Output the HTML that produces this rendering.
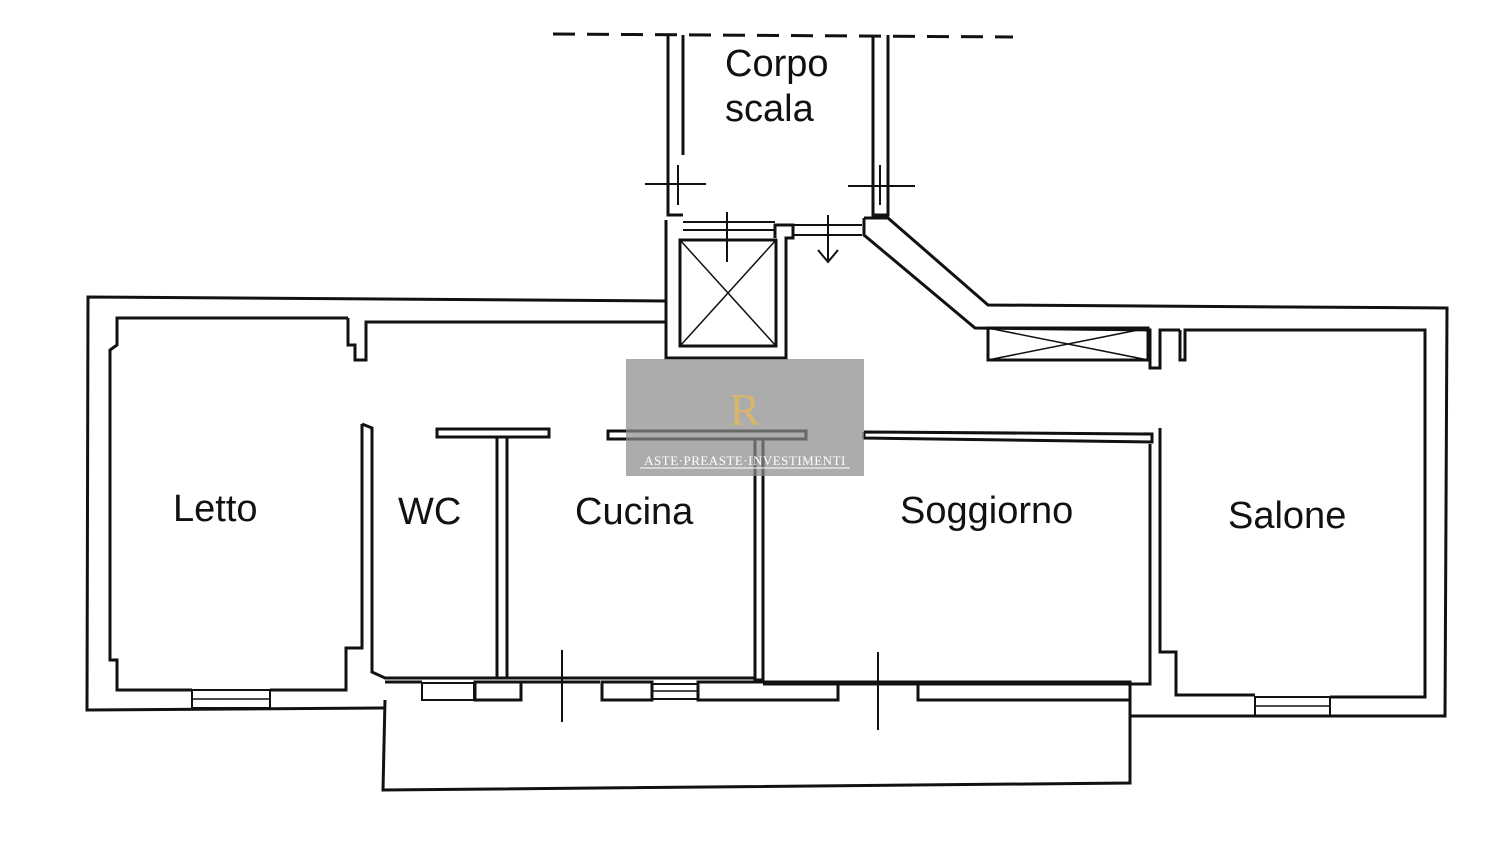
<!DOCTYPE html>
<html><head><meta charset="utf-8"><style>
html,body{margin:0;padding:0;background:#fff;}
svg{display:block}
text{font-family:"Liberation Sans",sans-serif;fill:#111}
</style></head><body>
<svg width="1500" height="841" viewBox="0 0 1500 841" xmlns="http://www.w3.org/2000/svg">
<g fill="none" stroke="#111" stroke-width="3" stroke-linejoin="miter">
<line x1="553" y1="34" x2="1013" y2="37" stroke-dasharray="22,12"/>
<polyline points="668,35 668,215 683,215"/>
<polyline points="683,35 683,155"/>
<polyline points="888,35 888,215 873,215 873,35"/>
<line x1="645" y1="184" x2="706" y2="184" stroke-width="2"/>
<line x1="678" y1="165" x2="678" y2="205" stroke-width="2"/>
<line x1="848" y1="186" x2="915" y2="186" stroke-width="2"/>
<line x1="880" y1="165" x2="880" y2="205" stroke-width="2"/>
<line x1="683" y1="222" x2="775" y2="222" stroke-width="2"/>
<line x1="683" y1="230" x2="775" y2="230" stroke-width="2"/>
<line x1="793" y1="225" x2="862" y2="225" stroke-width="2"/>
<line x1="793" y1="235" x2="862" y2="235" stroke-width="2"/>
<line x1="727" y1="212" x2="727" y2="262" stroke-width="2"/>
<line x1="828" y1="215" x2="828" y2="260" stroke-width="2"/>
<polyline points="818,250 828,262 838,250" stroke-width="2"/>
<polyline points="666,220 666,358 786,358 786,238 793,238 793,225 775,225 775,238"/>
<rect x="680" y="240" width="96" height="106"/>
<line x1="680" y1="240" x2="776" y2="346" stroke-width="1.5"/>
<line x1="776" y1="240" x2="680" y2="346" stroke-width="1.5"/>
<polyline points="666,301 88,297 87,710 385,708"/>
<polyline points="864,218 888,218 988,305 1447,308 1445,716 1130,716"/>
<polyline points="864,218 864,235 975,328 1150,330 1150,368 1160,368 1160,330 1180,330"/>
<rect x="988" y="328" width="160" height="32"/>
<line x1="988" y1="328" x2="1148" y2="360" stroke-width="1.5"/>
<line x1="1148" y1="328" x2="988" y2="360" stroke-width="1.5"/>
<polyline points="385,700 383,790 1130,783 1130,700"/>
<polyline points="348,318 117,318 117,345 110,350 110,660 117,660 117,690 192,690"/>
<polyline points="270,690 346,690 346,648 362,648 362,424"/>
<polyline points="348,318 348,345 355,345 355,360 366,360 366,322 666,322"/>
<rect x="192" y="690" width="78" height="18" stroke-width="2"/>
<line x1="192" y1="699" x2="270" y2="699" stroke-width="1.5"/>
<polyline points="362,424 372,428 372,672 385,678 500,678"/>
<rect x="437" y="429" width="112" height="8"/>
<polyline points="497,437 497,678 507,678 507,437"/>
<rect x="422" y="683" width="52" height="17" stroke-width="2"/>
<rect x="475" y="682" width="46" height="18"/>
<line x1="385" y1="682" x2="422" y2="682"/>
<line x1="521" y1="682" x2="600" y2="682"/>
<line x1="562" y1="650" x2="562" y2="722" stroke-width="2"/>
<rect x="608" y="431" width="198" height="8"/>
<polyline points="755,439 755,680 763,680 763,439"/>
<line x1="507" y1="678" x2="755" y2="678"/>
<rect x="602" y="682" width="50" height="18"/>
<rect x="652" y="684" width="46" height="15" stroke-width="2"/>
<line x1="652" y1="691" x2="698" y2="691" stroke-width="1.5"/>
<rect x="698" y="682" width="140" height="18"/>
<line x1="838" y1="682" x2="918" y2="682"/>
<line x1="878" y1="652" x2="878" y2="730" stroke-width="2"/>
<polyline points="864,432 1152,434 1152,442 864,438 864,432"/>
<polyline points="763,684 1150,684 1150,444"/>
<rect x="918" y="682" width="212" height="18"/>
<polyline points="1160,428 1160,652 1176,652 1176,695 1255,695"/>
<polyline points="1180,330 1180,360 1185,360 1185,330 1425,330 1425,697 1330,697"/>
<rect x="1255" y="697" width="75" height="19" stroke-width="2"/>
<line x1="1255" y1="706" x2="1330" y2="706" stroke-width="1.5"/>
</g>
<text x="725" y="76" font-size="38">Corpo</text>
<text x="725" y="121" font-size="38">scala</text>
<text x="173" y="521" font-size="38">Letto</text>
<text x="398" y="524" font-size="38">WC</text>
<text x="575" y="524" font-size="38">Cucina</text>
<text x="900" y="523" font-size="38">Soggiorno</text>
<text x="1228" y="528" font-size="38">Salone</text>
<rect x="626" y="359" width="238" height="117" fill="#8c8c8c" fill-opacity="0.72"/>
<text x="745" y="425" font-size="46" text-anchor="middle" style="fill:#d9b66a;font-family:'Liberation Serif',serif">R</text>
<text x="745" y="465" font-size="13" text-anchor="middle" style="fill:#fff;font-family:'Liberation Serif',serif;letter-spacing:0.5px">ASTE·PREASTE·INVESTIMENTI</text>
<line x1="640" y1="468" x2="850" y2="468" stroke="#fff" stroke-width="1"/>
</svg>
</body></html>
